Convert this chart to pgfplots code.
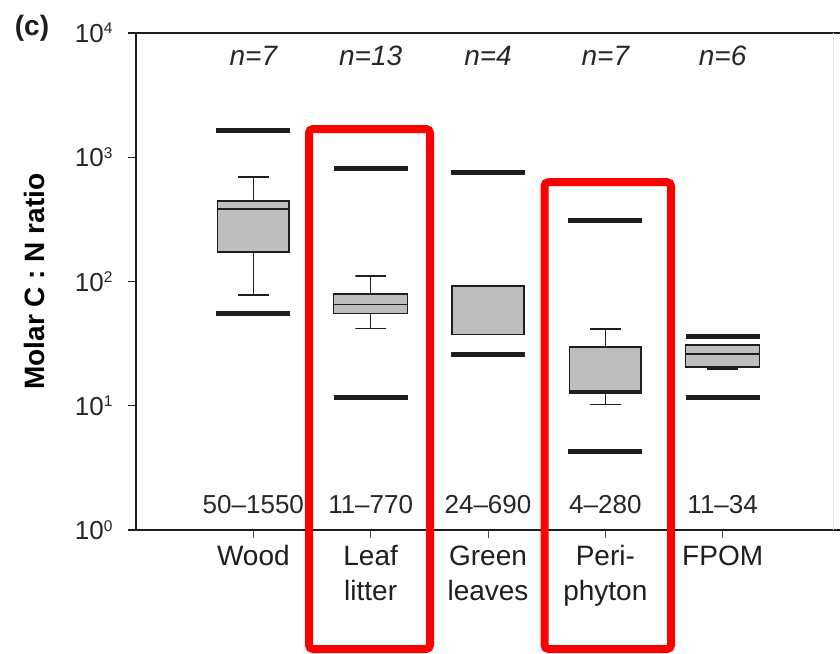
\documentclass[border=0pt]{standalone}
\usepackage{fontspec}
\setmainfont{Liberation Sans}
\usepackage{pgfplots}
\pgfplotsset{compat=1.18}
\definecolor{boxgray}{HTML}{BEBEBE}
\definecolor{ink}{HTML}{1E1E1E}
\newcommand{\tp}[1]{10\raisebox{8.5pt}{\fontsize{15.5}{15.5}\selectfont #1}}
\begin{document}
\begin{tikzpicture}
\useasboundingbox (-136pt,-123pt) rectangle (704pt,530pt);
\begin{axis}[
  at={(0pt,0pt)}, anchor=south west,
  scale only axis, width=710pt, height=497pt,
  xmin=-1, xmax=5.0511, ymin=1, ymax=10000, ymode=log,
  clip=false,
  axis lines=left,
  axis line style={-, line width=1.3pt, ink},
  xtick={0,1,2,3,4},
  xticklabels={Wood, {Leaf\\litter}, {Green\\leaves}, {Peri-\\phyton}, FPOM},
  xticklabel style={align=center, font=\fontsize{28}{35}\selectfont, ink, yshift=-4pt},
  ytick={1,10,100,1000,10000},
  yticklabels={\tp{0},\tp{1},\tp{2},\tp{3},\tp{4}},
  yticklabel style={font=\fontsize{26}{30}\selectfont, black!85, xshift=-12pt},
  yminorticks=false, xminorticks=false,
  tick align=outside,
  major tick length=8pt,
  ytick style={line width=1.3pt, ink},
  xtick style={line width=0.8pt, black!70},
  ylabel={\bfseries Molar C : N ratio},
  ylabel style={at={(axis description cs:-0.1423,0.5)}, anchor=center, font=\fontsize{28}{30}\selectfont},
]
% ---- top frame line
\draw[line width=1.3pt, ink] (rel axis cs:0,1) -- (rel axis cs:1,1);
% ---- boxes (lower quartile, upper quartile)
\addplot[fill=boxgray, draw=ink, line width=1.5pt] coordinates {(-0.305,173) (0.305,173) (0.305,444) (-0.305,444)} --cycle;
\addplot[fill=boxgray, draw=ink, line width=1.5pt] coordinates {(0.685,55.5) (1.315,55.5) (1.315,79.3) (0.685,79.3)} --cycle;
\addplot[fill=boxgray, draw=ink, line width=1.5pt] coordinates {(1.695,37.4) (2.305,37.4) (2.305,92) (1.695,92)} --cycle;
\addplot[fill=boxgray, draw=ink, line width=1.5pt] coordinates {(2.695,12.66) (3.305,12.66) (3.305,29.7) (2.695,29.7)} --cycle;
\addplot[fill=boxgray, draw=ink, line width=1.5pt] coordinates {(3.685,20.5) (4.315,20.5) (4.315,30.8) (3.685,30.8)} --cycle;
% ---- medians
\addplot[ink, line width=1.5pt] coordinates {(-0.305,383) (0.305,383)};
\addplot[ink, line width=1.5pt] coordinates {(0.685,65.5) (1.315,65.5)};
\addplot[ink, line width=2.2pt] coordinates {(2.695,13.0) (3.305,13.0)};
\addplot[ink, line width=1.5pt] coordinates {(3.685,26.1) (4.315,26.1)};
% ---- whiskers (box edge -> whisker end, then cap)
\addplot[ink, line width=1.2pt] coordinates {(0,444) (0,693) (-0.13,693) (0.13,693)};
\addplot[ink, line width=1.2pt] coordinates {(0,173) (0,77.9) (-0.13,77.9) (0.13,77.9)};
\addplot[ink, line width=1.2pt] coordinates {(1,79.3) (1,110.7) (0.87,110.7) (1.13,110.7)};
\addplot[ink, line width=1.2pt] coordinates {(1,55.5) (1,42.0) (0.87,42.0) (1.13,42.0)};
\addplot[ink, line width=1.2pt] coordinates {(3,29.7) (3,41.5) (2.87,41.5) (3.13,41.5)};
\addplot[ink, line width=1.2pt] coordinates {(3,12.66) (3,10.3) (2.87,10.3) (3.13,10.3)};
\addplot[ink, line width=2.2pt] coordinates {(3.87,19.8) (4.13,19.8)};
% ---- range (min / max) bars
\addplot[line width=5pt, ink] coordinates {(-0.315,1657) (0.315,1657)};
\addplot[line width=5pt, ink] coordinates {(-0.315,54.8) (0.315,54.8)};
\addplot[line width=5pt, ink] coordinates {(0.685,819) (1.315,819)};
\addplot[line width=5pt, ink] coordinates {(0.685,11.7) (1.315,11.7)};
\addplot[line width=5pt, ink] coordinates {(1.685,747) (2.315,747)};
\addplot[line width=5pt, ink] coordinates {(1.685,25.8) (2.315,25.8)};
\addplot[line width=5pt, ink] coordinates {(2.685,307) (3.315,307)};
\addplot[line width=5pt, ink] coordinates {(2.685,4.32) (3.315,4.32)};
\addplot[line width=5pt, ink] coordinates {(3.685,36.4) (4.315,36.4)};
\addplot[line width=5pt, ink] coordinates {(3.685,11.7) (4.315,11.7)};
% ---- n labels
\node[anchor=base, font=\fontsize{28}{30}\selectfont\itshape, black!85] at (axis cs:0,5525) {n=7};
\node[anchor=base, font=\fontsize{28}{30}\selectfont\itshape, black!85] at (axis cs:1,5525) {n=13};
\node[anchor=base, font=\fontsize{28}{30}\selectfont\itshape, black!85] at (axis cs:2,5525) {n=4};
\node[anchor=base, font=\fontsize{28}{30}\selectfont\itshape, black!85] at (axis cs:3,5525) {n=7};
\node[anchor=base, font=\fontsize{28}{30}\selectfont\itshape, black!85] at (axis cs:4,5525) {n=6};
% ---- range labels
\node[anchor=base, font=\fontsize{26}{30}\selectfont, black!85] at (axis cs:0,1.37) {50--1550};
\node[anchor=base, font=\fontsize{26}{30}\selectfont, black!85] at (axis cs:1,1.37) {11--770};
\node[anchor=base, font=\fontsize{26}{30}\selectfont, black!85] at (axis cs:2,1.37) {24--690};
\node[anchor=base, font=\fontsize{26}{30}\selectfont, black!85] at (axis cs:3,1.37) {4--280};
\node[anchor=base, font=\fontsize{26}{30}\selectfont, black!85] at (axis cs:4,1.37) {11--34};
% ---- panel letter
\node[font=\bfseries\fontsize{28}{30}\selectfont, ink] at (axis description cs:-0.1465,1.010) {(c)};
% ---- faint right border as in the reference
\draw[black!8, line width=0.8pt] (axis cs:4.94,1) -- (axis cs:4.94,10000);
% ---- red highlight frames
\draw[red, line width=8pt, rounded corners=4pt] (axis cs:0.4745,0.1102) rectangle (axis cs:1.5057,1688);
\draw[red, line width=8pt, rounded corners=4pt] (axis cs:2.4817,0.1102) rectangle (axis cs:3.5597,630);
\end{axis}
\end{tikzpicture}
\end{document}
